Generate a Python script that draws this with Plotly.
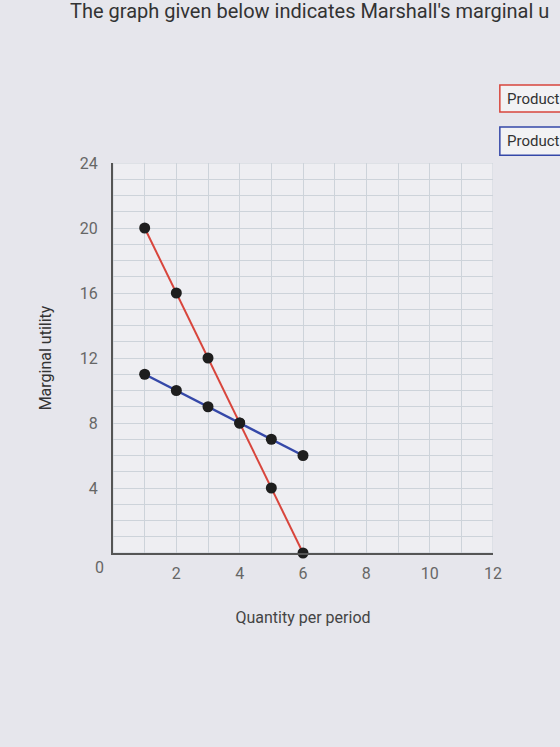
import plotly.graph_objects as go

quantity = [1, 2, 3, 4, 5, 6]
product_x_mu = [20, 16, 12, 8, 4, 0]
product_y_mu = [11, 10, 9, 8, 7, 6]
x_ticks = [2, 4, 6, 8, 10, 12]
y_ticks = [4, 8, 12, 16, 20, 24]

fig = go.Figure()
fig.add_trace(go.Scatter(
    x=quantity, y=product_x_mu, mode="lines+markers", name="Product X",
    line=dict(color="#d8453c", width=2),
    marker=dict(color="#1e1e1e", size=11), cliponaxis=False, showlegend=False))
fig.add_trace(go.Scatter(
    x=quantity, y=product_y_mu, mode="lines+markers", name="Product Y",
    line=dict(color="#3548a8", width=2.5),
    marker=dict(color="#1e1e1e", size=11), cliponaxis=False, showlegend=False))

grid = "#cdd3da"
fig.update_layout(
    width=560, height=747,
    margin=dict(l=113, r=67, t=163, b=194),
    paper_bgcolor="#e6e6ec",
    plot_bgcolor="#eeeef2",
    font=dict(family="Roboto, sans-serif", color="#666666"),
    xaxis=dict(range=[0, 12], tickvals=x_ticks, ticks="", showline=True,
               linecolor="#555555", linewidth=2, mirror=False,
               gridcolor=grid, zeroline=False, ticklabelstandoff=5,
               tickfont=dict(size=16, color="#666666"),
               minor=dict(dtick=1, showgrid=True, gridcolor=grid),
               title=dict(text="Quantity per period", standoff=30,
                          font=dict(size=16, color="#444444"))),
    yaxis=dict(range=[0, 24], tickvals=y_ticks, ticks="", showline=True,
               linecolor="#555555", linewidth=2,
               gridcolor=grid, zeroline=False, ticklabelstandoff=10,
               tickfont=dict(size=16, color="#666666"),
               minor=dict(dtick=1, showgrid=True, gridcolor=grid),
               title=dict(text="Marginal utility", standoff=24,
                          font=dict(size=16, color="#333333"))),
)

fig.add_shape(type="rect", xref="x", yref="y", x0=0, x1=12, y0=0, y1=24,
              line=dict(color=grid, width=1), layer="below")

fig.add_annotation(x=0, y=0, xref="x", yref="y", text="0", showarrow=False,
                   xshift=-14, yshift=-14, font=dict(size=16, color="#666666"))

fig.add_annotation(xref="paper", yref="paper", x=-0.118, y=1.39,
                   xanchor="left", yanchor="middle", showarrow=False,
                   text="The graph given below indicates Marshall's marginal u",
                   font=dict(size=20, color="#333333"))

# legend-like boxes running off the right edge
fig.add_shape(type="rect", xref="paper", yref="paper", x0=1.018, x1=1.25,
              y0=1.131, y1=1.20, line=dict(color="#d8453c", width=1.5),
              fillcolor="#f2f2f4")
fig.add_shape(type="rect", xref="paper", yref="paper", x0=1.018, x1=1.25,
              y0=1.02, y1=1.092, line=dict(color="#3548a8", width=1.5),
              fillcolor="#f2f2f4")
fig.add_annotation(xref="paper", yref="paper", x=1.032, y=1.165,
                   xanchor="left", yanchor="middle", showarrow=False,
                   text="Product", font=dict(size=15, color="#333333"))
fig.add_annotation(xref="paper", yref="paper", x=1.032, y=1.056,
                   xanchor="left", yanchor="middle", showarrow=False,
                   text="Product", font=dict(size=15, color="#333333"))

fig.write_html("out.html")
